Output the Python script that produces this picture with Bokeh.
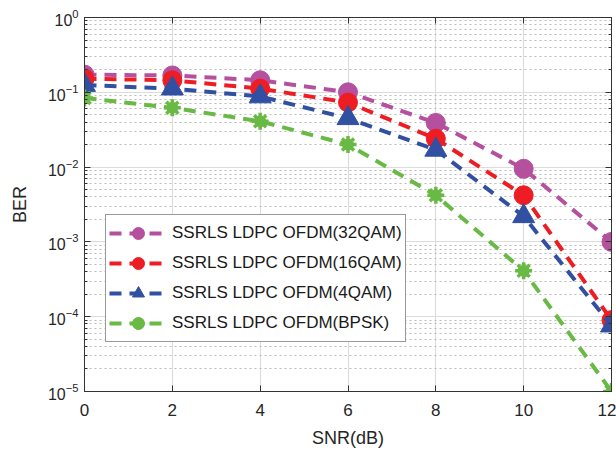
from bokeh.plotting import figure
from bokeh.models import LinearAxis, LogAxis, Range1d, FixedTicker, Legend
from bokeh.embed import file_html
from bokeh.resources import INLINE

snr = [0, 2, 4, 6, 8, 10, 12]
ber_32qam = [0.172, 0.168, 0.145, 0.100, 0.039, 0.0095, 0.001]
ber_16qam = [0.152, 0.145, 0.112, 0.073, 0.024, 0.0042, 0.00009]
ber_4qam = [0.125, 0.112, 0.088, 0.045, 0.017, 0.0022, 0.000076]
ber_bpsk = [0.084, 0.062, 0.041, 0.020, 0.0042, 0.00041, 0.00001]

labels = ["SSRLS LDPC OFDM(32QAM)", "SSRLS LDPC OFDM(16QAM)",
          "SSRLS LDPC OFDM(4QAM)", "SSRLS LDPC OFDM(BPSK)"]
colors = ["#B4509E", "#EE1D24", "#3150A2", "#68BA45"]

FONT = "Liberation Sans"
AX = "#333333"

p = figure(width=616, height=453, y_axis_type="log",
           x_range=Range1d(0, 12), y_range=Range1d(1e-5, 1),
           output_backend="svg", toolbar_location=None,
           min_border_left=84, min_border_top=17, min_border_right=5,
           min_border_bottom=62)
p.background_fill_color = "white"
p.border_fill_color = "white"
p.outline_line_color = AX
p.outline_line_width = 1

# grids
p.xgrid.ticker = FixedTicker(ticks=snr)
p.xgrid.grid_line_color = "#DCDCDC"
p.xgrid.grid_line_width = 1.2
p.ygrid.grid_line_color = "#DCDCDC"
p.ygrid.grid_line_width = 1.2
p.ygrid.minor_grid_line_color = "#BBBBBB"
p.ygrid.minor_grid_line_dash = "2 3"
p.ygrid.minor_grid_line_width = 1

def style_axis(ax, size="17px", labels_on=True):
    ax.axis_line_color = AX
    ax.axis_line_width = 1
    ax.major_tick_in = 6
    ax.major_tick_out = 0
    ax.major_tick_line_color = AX
    ax.minor_tick_line_color = AX
    ax.major_label_text_font = FONT
    ax.major_label_text_font_size = size
    ax.major_label_text_color = "#262626"
    ax.axis_label_text_font = FONT
    ax.axis_label_text_font_size = "18px"
    ax.axis_label_text_font_style = "normal"
    ax.axis_label_text_color = "#262626"
    if not labels_on:
        ax.major_label_text_font_size = "0px"
        ax.major_label_text_alpha = 0

xa = p.xaxis[0]
xa.ticker = FixedTicker(ticks=snr)
style_axis(xa, "17px")
xa.minor_tick_in = 0
xa.minor_tick_out = 0
xa.major_label_standoff = 12
xa.axis_label = "SNR(dB)"
xa.axis_label_standoff = 9

ya = p.yaxis[0]
style_axis(ya, "16px")
ya.minor_tick_in = 3
ya.minor_tick_out = 0
ya.major_label_standoff = 6
ya.axis_label = "BER"
ya.axis_label_standoff = 15

top = LinearAxis(ticker=FixedTicker(ticks=snr))
style_axis(top, labels_on=False)
top.minor_tick_in = 0
top.minor_tick_out = 0
top.major_label_standoff = 0
p.add_layout(top, "above")

right = LogAxis()
style_axis(right, labels_on=False)
right.minor_tick_in = 3
right.minor_tick_out = 0
right.major_label_standoff = 0
p.add_layout(right, "right")

series = [ber_32qam, ber_16qam, ber_4qam, ber_bpsk]
items = []
for i, (vals, lab, col) in enumerate(zip(series, labels, colors)):
    r_line = p.line(snr, vals, line_color=col, line_width=4, line_dash="12 8")
    rs = [r_line]
    if i in (0, 1):
        rs.append(p.scatter(snr, vals, marker="circle", size=19,
                            fill_color=col, line_color=col))
    elif i == 2:
        rs.append(p.scatter(snr, vals, marker="triangle", size=22,
                            fill_color=col, line_color=col))
    else:
        rs.append(p.scatter(snr, vals, marker="circle", size=11,
                            fill_color=col, line_color=col))
        rs.append(p.scatter(snr, vals, marker="asterisk", size=17,
                            line_color=col, line_width=3.5))
    items.append((lab, rs))

legend = Legend(items=items, location=(21, 49))
legend.label_text_font = FONT
legend.label_text_font_size = "17px"
legend.label_text_font_style = "normal"
legend.label_text_color = "#1a1a1a"
legend.glyph_width = 58
legend.glyph_height = 30
legend.label_height = 30
legend.label_standoff = 5
legend.spacing = -6
legend.padding = 3
legend.margin = 0
legend.border_line_color = "#333333"
legend.border_line_width = 1.5
legend.background_fill_color = "white"
legend.background_fill_alpha = 1
p.add_layout(legend, "center")

open("out.html", "w").write(file_html(p, INLINE))
